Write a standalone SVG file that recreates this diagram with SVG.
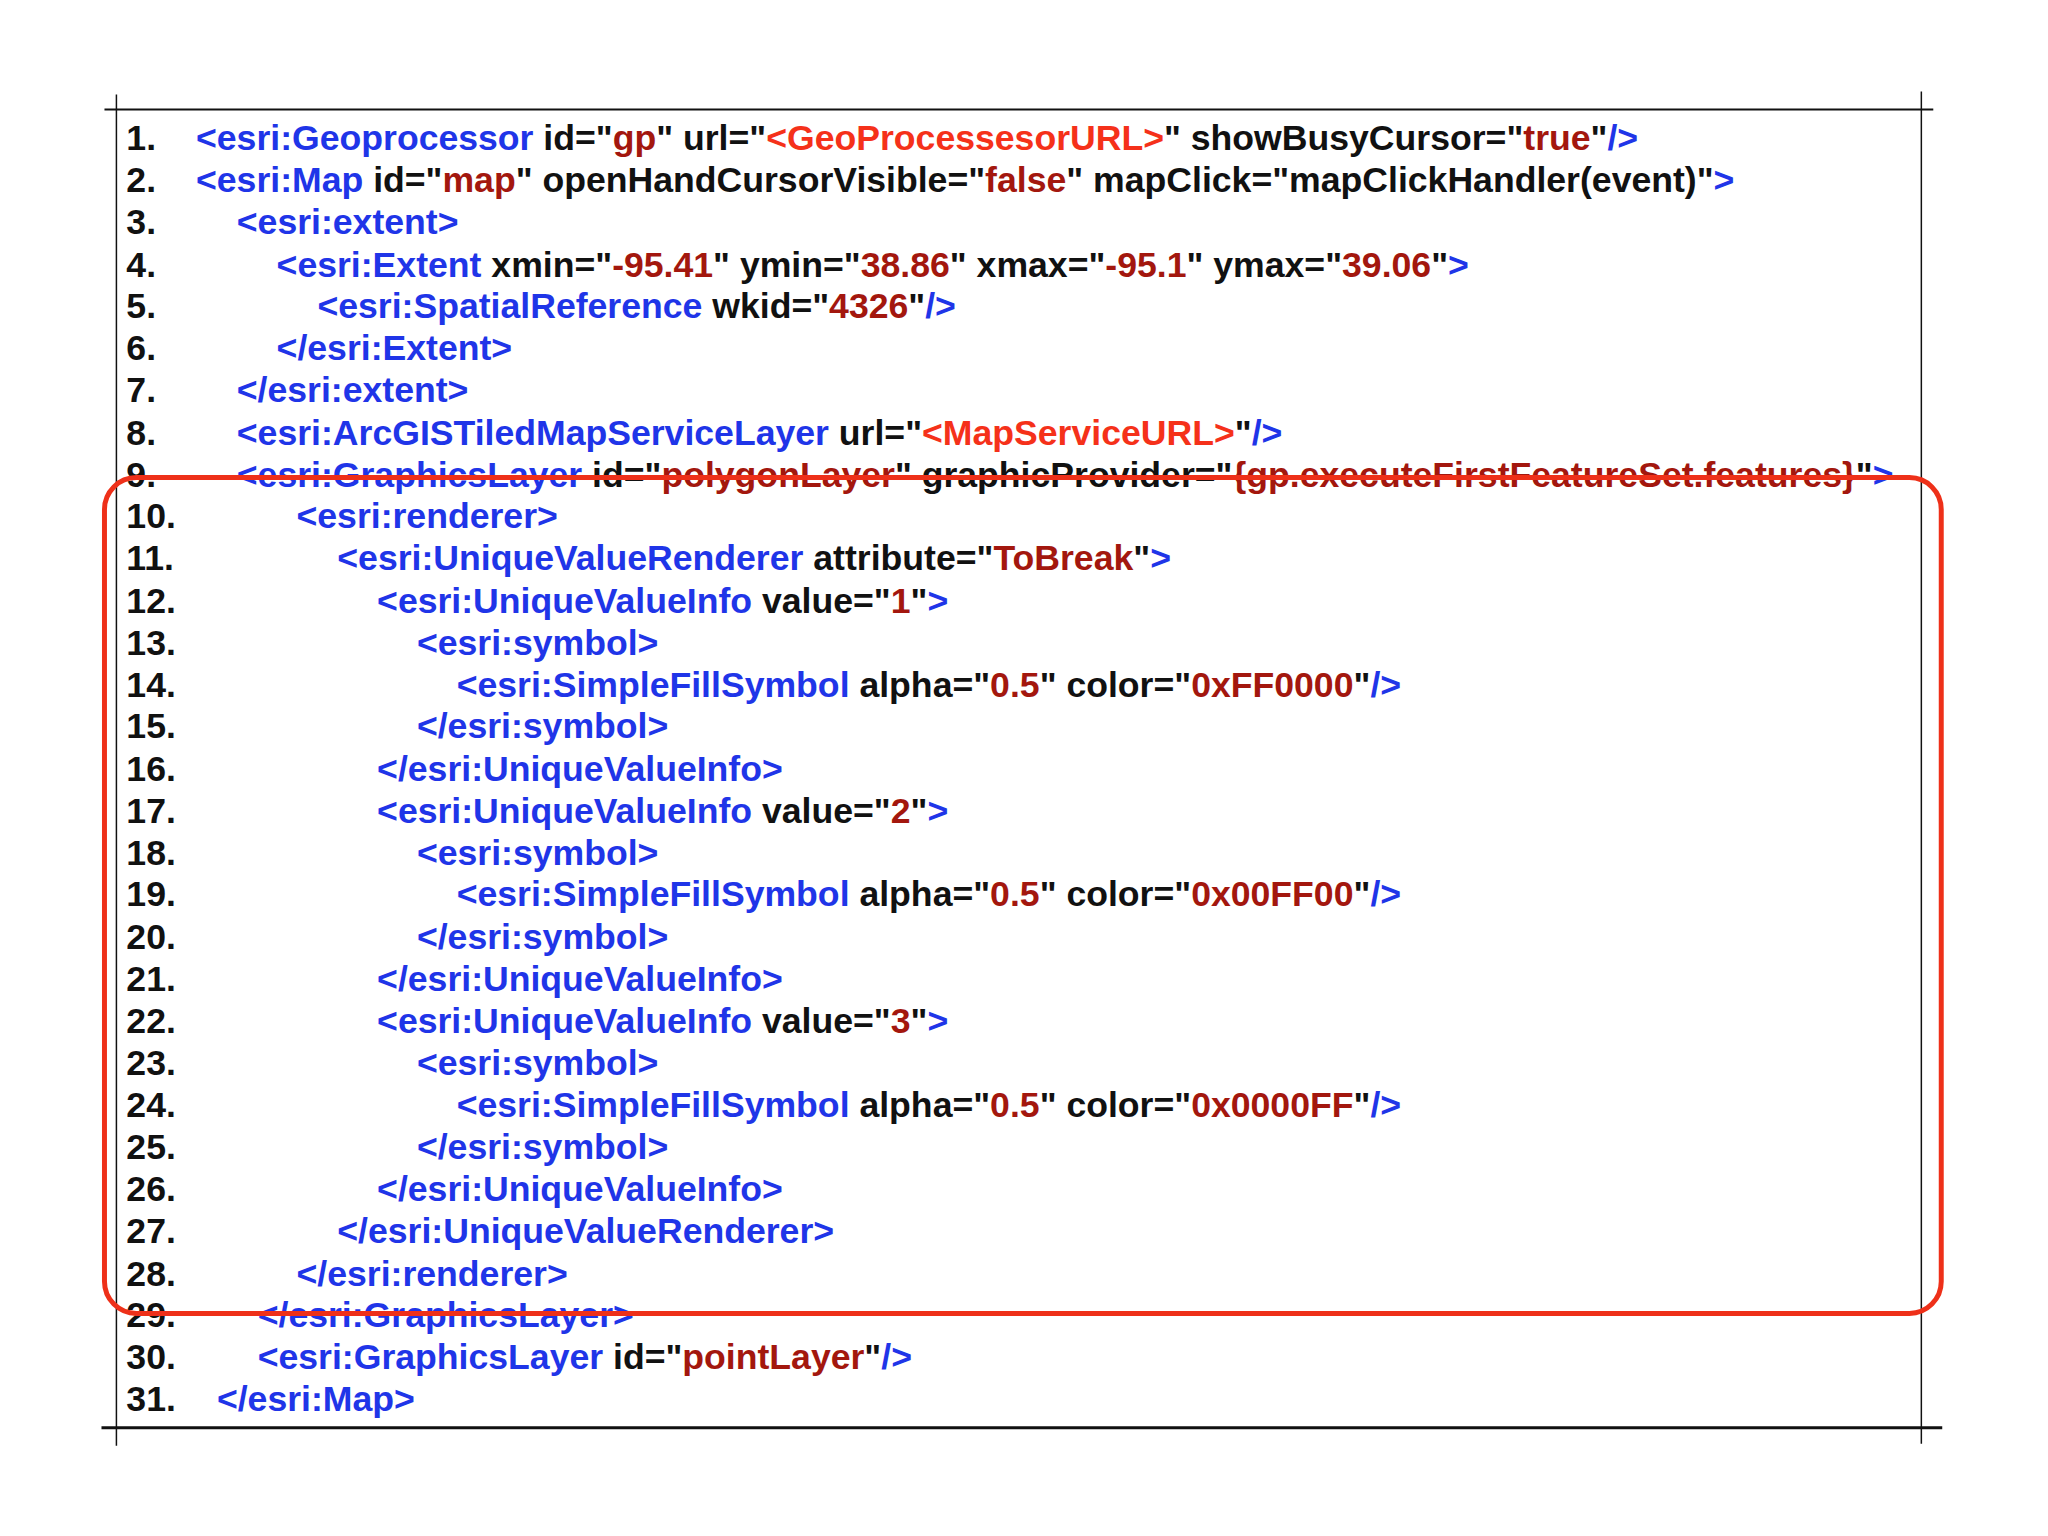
<svg xmlns="http://www.w3.org/2000/svg" width="2048" height="1536" viewBox="0 0 2048 1536">
<style>
text{font-family:"Liberation Sans",Arial,sans-serif;font-weight:bold;font-size:35.8px;fill:#111}
.b{fill:#1f35e8}.r{fill:#a3170e}.o{fill:#f5311a}
.ln{stroke:#111;fill:none}
</style>
<rect width="2048" height="1536" fill="#fff"/>
<g transform="scale(0.995)">
<g id="frame">
<line class="ln" x1="105" y1="110" x2="1943" y2="110" stroke-width="2"/>
<line class="ln" x1="117" y1="95" x2="117" y2="1453" stroke-width="1.5"/>
<line class="ln" x1="1931" y1="92" x2="1931" y2="1451" stroke-width="1.5"/>
<line class="ln" x1="102" y1="1435" x2="1952" y2="1435" stroke-width="3"/>
</g>
<g id="code">
<text x="127" y="151">1.</text><text x="197" y="151"><tspan class="b">&lt;esri:Geoprocessor</tspan> id="<tspan class="r">gp</tspan>" url="<tspan class="o">&lt;GeoProcessesorURL&gt;</tspan>" showBusyCursor="<tspan class="r">true</tspan>"<tspan class="b">/&gt;</tspan></text>
<text x="127" y="193">2.</text><text x="197" y="193"><tspan class="b">&lt;esri:Map</tspan> id="<tspan class="r">map</tspan>" openHandCursorVisible="<tspan class="r">false</tspan>" mapClick="mapClickHandler(event)"<tspan class="b">&gt;</tspan></text>
<text x="127" y="235">3.</text><text x="238" y="235" class="b">&lt;esri:extent&gt;</text>
<text x="127" y="278">4.</text><text x="278" y="278"><tspan class="b">&lt;esri:Extent</tspan> xmin="<tspan class="r">-95.41</tspan>" ymin="<tspan class="r">38.86</tspan>" xmax="<tspan class="r">-95.1</tspan>" ymax="<tspan class="r">39.06</tspan>"<tspan class="b">&gt;</tspan></text>
<text x="127" y="320">5.</text><text x="319" y="320"><tspan class="b">&lt;esri:SpatialReference</tspan> wkid="<tspan class="r">4326</tspan>"<tspan class="b">/&gt;</tspan></text>
<text x="127" y="362">6.</text><text x="278" y="362" class="b">&lt;/esri:Extent&gt;</text>
<text x="127" y="404">7.</text><text x="238" y="404" class="b">&lt;/esri:extent&gt;</text>
<text x="127" y="447">8.</text><text x="238" y="447"><tspan class="b">&lt;esri:ArcGISTiledMapServiceLayer</tspan> url="<tspan class="o">&lt;MapServiceURL&gt;</tspan>"<tspan class="b">/&gt;</tspan></text>
<text x="127" y="489">9.</text><text x="238" y="489"><tspan class="b">&lt;esri:GraphicsLayer</tspan> id="<tspan class="r">polygonLayer</tspan>" graphicProvider="<tspan class="r">{gp.executeFirstFeatureSet.features}</tspan>"<tspan class="b">&gt;</tspan></text>
<text x="127" y="531">10.</text><text x="298" y="531" class="b">&lt;esri:renderer&gt;</text>
<text x="127" y="573">11.</text><text x="339" y="573"><tspan class="b">&lt;esri:UniqueValueRenderer</tspan> attribute="<tspan class="r">ToBreak</tspan>"<tspan class="b">&gt;</tspan></text>
<text x="127" y="616">12.</text><text x="379" y="616"><tspan class="b">&lt;esri:UniqueValueInfo</tspan> value="<tspan class="r">1</tspan>"<tspan class="b">&gt;</tspan></text>
<text x="127" y="658">13.</text><text x="419" y="658" class="b">&lt;esri:symbol&gt;</text>
<text x="127" y="700">14.</text><text x="459" y="700"><tspan class="b">&lt;esri:SimpleFillSymbol</tspan> alpha="<tspan class="r">0.5</tspan>" color="<tspan class="r">0xFF0000</tspan>"<tspan class="b">/&gt;</tspan></text>
<text x="127" y="742">15.</text><text x="419" y="742" class="b">&lt;/esri:symbol&gt;</text>
<text x="127" y="785">16.</text><text x="379" y="785" class="b">&lt;/esri:UniqueValueInfo&gt;</text>
<text x="127" y="827">17.</text><text x="379" y="827"><tspan class="b">&lt;esri:UniqueValueInfo</tspan> value="<tspan class="r">2</tspan>"<tspan class="b">&gt;</tspan></text>
<text x="127" y="869">18.</text><text x="419" y="869" class="b">&lt;esri:symbol&gt;</text>
<text x="127" y="911">19.</text><text x="459" y="911"><tspan class="b">&lt;esri:SimpleFillSymbol</tspan> alpha="<tspan class="r">0.5</tspan>" color="<tspan class="r">0x00FF00</tspan>"<tspan class="b">/&gt;</tspan></text>
<text x="127" y="954">20.</text><text x="419" y="954" class="b">&lt;/esri:symbol&gt;</text>
<text x="127" y="996">21.</text><text x="379" y="996" class="b">&lt;/esri:UniqueValueInfo&gt;</text>
<text x="127" y="1038">22.</text><text x="379" y="1038"><tspan class="b">&lt;esri:UniqueValueInfo</tspan> value="<tspan class="r">3</tspan>"<tspan class="b">&gt;</tspan></text>
<text x="127" y="1080">23.</text><text x="419" y="1080" class="b">&lt;esri:symbol&gt;</text>
<text x="127" y="1123">24.</text><text x="459" y="1123"><tspan class="b">&lt;esri:SimpleFillSymbol</tspan> alpha="<tspan class="r">0.5</tspan>" color="<tspan class="r">0x0000FF</tspan>"<tspan class="b">/&gt;</tspan></text>
<text x="127" y="1165">25.</text><text x="419" y="1165" class="b">&lt;/esri:symbol&gt;</text>
<text x="127" y="1207">26.</text><text x="379" y="1207" class="b">&lt;/esri:UniqueValueInfo&gt;</text>
<text x="127" y="1249">27.</text><text x="339" y="1249" class="b">&lt;/esri:UniqueValueRenderer&gt;</text>
<text x="127" y="1292">28.</text><text x="298" y="1292" class="b">&lt;/esri:renderer&gt;</text>
<text x="127" y="1334">29.</text><text x="259" y="1334" class="b">&lt;/esri:GraphicsLayer&gt;</text>
<text x="127" y="1376">30.</text><text x="259" y="1376"><tspan class="b">&lt;esri:GraphicsLayer</tspan> id="<tspan class="r">pointLayer</tspan>"<tspan class="b">/&gt;</tspan></text>
<text x="127" y="1418">31.</text><text x="218" y="1418" class="b">&lt;/esri:Map&gt;</text>
</g>
<g id="highlight">
<rect x="105" y="480" width="1846" height="840" rx="32" fill="none" stroke="#ee3019" stroke-width="5"/>
</g>
</g>
</svg>
